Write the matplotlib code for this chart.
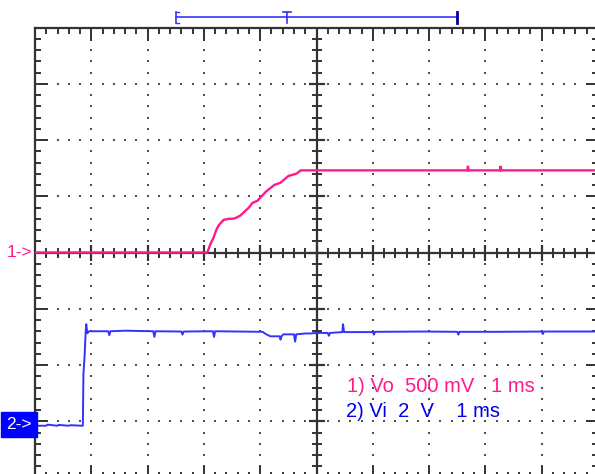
import matplotlib.pyplot as plt
import numpy as np

plt.rcParams['font.family'] = ['Liberation Sans', 'DejaVu Sans']

PINK = '#ff1a8c'
BLUE_TRACE = '#3333ff'
BLUE_TEXT = '#0000ee'
FRAME = '#333333'

# channel settings
ch1_scale = 0.5     # V/div
ch2_scale = 2.0     # V/div
ch1_offset = 0.0    # div (ground marker 1->)
ch2_offset = -3.06  # div (ground marker 2->)
trig_pos = 4.48     # div, "T"
window = (2.51, 7.49)

# channel 1 (Vo): time in ms from the left edge, volts
t1 = [0.0, 3.06, 3.12, 3.17, 3.22, 3.26, 3.35, 3.45, 3.52, 3.58, 3.65, 3.80,
      3.86, 3.95, 4.10, 4.25, 4.36, 4.50, 4.64, 4.72, 7.68, 7.69, 7.70,
      8.26, 8.27, 8.28, 10.0]
v1 = [0.0, 0.0, 0.08, 0.13, 0.20, 0.24, 0.29, 0.30, 0.30, 0.31, 0.33, 0.40,
      0.44, 0.46, 0.54, 0.60, 0.62, 0.68, 0.70, 0.73, 0.73, 0.77, 0.73,
      0.73, 0.77, 0.73, 0.73]

# channel 2 (Vi)
t2 = [0.0, 0.20, 0.22, 0.40, 0.42, 0.60, 0.62, 0.85, 0.86, 0.88, 0.90, 0.91,
      0.93, 0.96, 1.30, 1.32, 1.34, 1.60, 2.10, 2.12, 2.14, 2.60, 2.62,
      2.64, 3.16, 3.18, 3.20, 4.04, 4.10, 4.18, 4.35, 4.36, 4.38, 4.41,
      4.60, 4.62, 4.64, 4.80, 4.89, 5.00, 5.20, 5.22, 5.24, 5.46, 5.47,
      5.49, 6.00, 6.02, 6.04, 6.90, 7.50, 7.52, 7.54, 8.20, 9.00, 9.02,
      9.04, 10.0]
v2 = [-0.04, -0.04, 0.00, -0.04, -0.01, -0.04, -0.02, -0.04, 1.80, 2.40,
      3.30, 3.57, 3.25, 3.32, 3.32, 3.18, 3.32, 3.34, 3.32, 3.12, 3.32,
      3.31, 3.20, 3.31, 3.32, 3.12, 3.32, 3.30, 3.22, 3.14, 3.14, 3.02,
      3.14, 3.21, 3.21, 2.95, 3.21, 3.24, 3.24, 3.26, 3.26, 3.16, 3.26,
      3.29, 3.57, 3.29, 3.29, 3.20, 3.30, 3.31, 3.30, 3.20, 3.30, 3.30,
      3.31, 3.22, 3.31, 3.31]

fig = plt.figure(figsize=(5.95, 4.74), dpi=100)
ax = fig.add_axes([35 / 595, -3.5 / 474, 563 / 595, 450 / 474])
ax.set_xlim(0, 10)
ax.set_ylim(-4, 4)

# frame with inward ticks
for s in ax.spines.values():
    s.set_color(FRAME)
    s.set_linewidth(1.6)
ax.set_xticks(np.arange(0, 11, 1))
ax.set_yticks(np.arange(-4, 5, 1))
ax.set_xticks(np.arange(0, 10.01, 0.2), minor=True)
ax.set_yticks(np.arange(-4, 4.01, 0.2), minor=True)
ax.tick_params(which='both', direction='in', top=True, right=True,
               labelbottom=False, labelleft=False, color=FRAME, width=1.4)
ax.tick_params(which='major', length=9)
ax.tick_params(which='minor', length=4.5)

# dotted graticule
minor_x = np.arange(0.2, 10, 0.2)
minor_y = np.arange(-3.8, 4, 0.2)
for gx in [1, 2, 3, 4, 6, 7, 8, 9]:
    ax.scatter(np.full(minor_y.size, gx), minor_y, s=2.5, marker='s',
               color='#4d4d4d', linewidths=0, zorder=1)
for gy in [-3, -2, -1, 1, 2, 3]:
    ax.scatter(minor_x, np.full(minor_x.size, gy), s=2.5, marker='s',
               color='#4d4d4d', linewidths=0, zorder=1)

# center cross with ticks
ax.axvline(5, color=FRAME, lw=1.6, zorder=1)
ax.axhline(0, color=FRAME, lw=1.6, zorder=1)
ax.plot(minor_x, np.zeros(minor_x.size), linestyle='none', marker='|',
        ms=7.5, mew=1.4, color=FRAME, zorder=1)
ax.plot(np.full(minor_y.size, 5), minor_y, linestyle='none', marker='_',
        ms=7.5, mew=1.4, color=FRAME, zorder=1)
ax.plot(np.arange(1, 10), np.zeros(9), linestyle='none', marker='|',
        ms=11, mew=1.6, color=FRAME, zorder=1)
ax.plot(np.full(7, 5), np.arange(-3, 4), linestyle='none', marker='_',
        ms=11, mew=1.6, color=FRAME, zorder=1)

# traces
ax.plot(t1, np.array(v1) / ch1_scale + ch1_offset, color=PINK, lw=1.7,
        zorder=3, solid_joinstyle='miter')
ax.plot(t2, np.array(v2) / ch2_scale + ch2_offset, color=BLUE_TRACE, lw=1.4,
        zorder=3)

# ground markers
ax.text(-0.04, ch1_offset, '1->', color=PINK, fontsize=12.5, ha='right',
        va='center', clip_on=False)
ax.text(-0.06, ch2_offset, '2->', color='white', fontsize=12.5, ha='right',
        va='center', clip_on=False,
        bbox=dict(boxstyle='square,pad=0.3', fc='#0000ff', ec='#0000ff'))

# trigger / memory window bar
yb = 4.18
ax.plot(window, [yb, yb], color=BLUE_TRACE, lw=1.2, clip_on=False)
ax.plot([window[0]] * 2, [yb - 0.1, yb + 0.1], color=BLUE_TRACE, lw=1.2,
        clip_on=False)
ax.plot([window[0], window[0] + 0.05], [yb + 0.1] * 2, color=BLUE_TRACE,
        lw=1.0, clip_on=False)
ax.plot([window[0], window[0] + 0.05], [yb - 0.1] * 2, color=BLUE_TRACE,
        lw=1.0, clip_on=False)
ax.plot([window[1]] * 2, [yb - 0.1, yb + 0.1], color='#000099', lw=2.0,
        clip_on=False)
ax.plot([trig_pos] * 2, [yb - 0.1, yb + 0.1], color=BLUE_TRACE, lw=1.2,
        clip_on=False)
ax.plot([trig_pos - 0.07, trig_pos + 0.07], [yb + 0.1] * 2,
        color=BLUE_TRACE, lw=1.2, clip_on=False)

# channel legend
ax.text(5.55, -2.48, '1) Vo  500 mV   1 ms', color=PINK, fontsize=14.5,
        va='baseline')
ax.text(5.53, -2.92, '2) Vi  2  V    1 ms', color=BLUE_TEXT, fontsize=14.5,
        va='baseline')

fig.savefig('out.png', dpi=100)
